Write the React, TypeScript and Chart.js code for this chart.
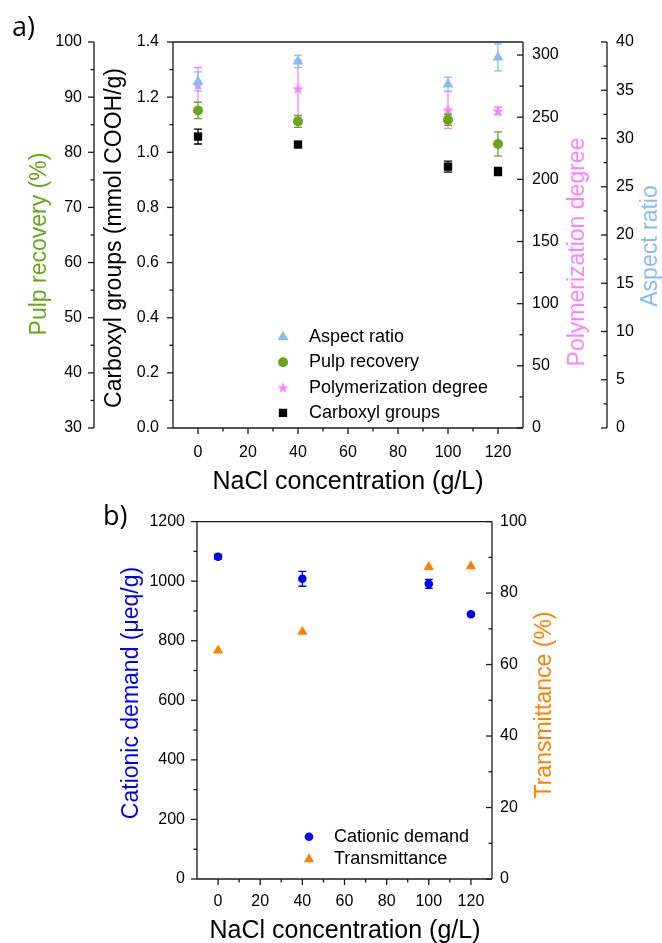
import React, { useEffect, useRef } from 'react';
import { Chart, registerables } from 'chart.js';
import { drawPoint } from 'chart.js/helpers';

Chart.register(...registerables);

const FONT = "'Liberation Sans', Arial, Helvetica, sans-serif";

// NaCl concentration levels (g/L)
const naclLevels = [0, 40, 100, 120];

// Panel a) – fibre properties
const aspectRatio = [35.9, 38.0, 35.6, 38.4];
const aspectRatioErr = [1.0, 0.65, 0.75, 1.4];
const pulpRecovery = [87.6, 85.6, 85.9, 81.5];
const pulpRecoveryErr = [1.5, 1.1, 1.0, 2.2];
const polymerizationDegree = [276, 273, 256, 255];
const polymerizationDegreeErr = [14, 23, 15, 3];
const carboxylGroups = [1.057, 1.028, 0.948, 0.93];
const carboxylGroupsErr = [0.027, 0.005, 0.02, 0.015];

// Panel b) – suspension properties
const cationicDemand = [1082, 1008, 991, 889];
const cationicDemandErr = [8, 25, 15, 5];
const transmittance = [63.9, 69.2, 87.3, 87.5];

// Major tick values of every axis
const naclTicks = [0, 20, 40, 60, 80, 100, 120];
const pulpTicks = [30, 40, 50, 60, 70, 80, 90, 100];
const carboxylTicks = [0, 0.2, 0.4, 0.6, 0.8, 1.0, 1.2, 1.4];
const polymerizationTicks = [0, 50, 100, 150, 200, 250, 300];
const aspectTicks = [0, 5, 10, 15, 20, 25, 30, 35, 40];
const cationicTicks = [0, 200, 400, 600, 800, 1000, 1200];
const transmittanceTicks = [0, 20, 40, 60, 80, 100];

const GREEN = '#6ba51c';
const PINK = '#ff80ff';
const SKY = '#88bdf2';
const BLACK = '#000000';
const BLUE = '#0000ff';
const ORANGE = '#ff8000';
const AXIS = '#1a1a1a';

const toPoints = (values: number[], errs?: number[]) =>
  naclLevels.map((x, i) => ({ x, y: values[i], err: errs ? errs[i] : 0 }));

const midpoints = (ticks: number[]) =>
  ticks.slice(1).map((v, i) => (v + ticks[i]) / 2);

function makeStar(color: string, outer: number, inner: number) {
  const size = Math.ceil(outer * 2) + 2;
  const c = document.createElement('canvas');
  c.width = size;
  c.height = size;
  const g = c.getContext('2d')!;
  g.beginPath();
  for (let k = 0; k < 10; k++) {
    const r = k % 2 === 0 ? outer : inner;
    const a = -Math.PI / 2 + (k * Math.PI) / 5;
    g.lineTo(size / 2 + r * Math.cos(a), size / 2 + 0.5 + r * Math.sin(a));
  }
  g.closePath();
  g.fillStyle = color;
  g.fill();
  return c;
}

// Linear axis without Chart.js grid/border; lines and tick marks are drawn by axisFrame
function linearAxis(o: {
  position: string;
  weight?: number;
  min: number;
  max: number;
  ticks: number[];
  size: number;
  padding: number;
  decimals?: number;
}) {
  return {
    type: 'linear',
    position: o.position,
    weight: o.weight ?? 0,
    min: o.min,
    max: o.max,
    grid: { display: false, drawTicks: false },
    border: { display: false },
    title: { display: false },
    ticks: {
      color: '#000',
      font: { family: FONT, size: 16 },
      padding: o.padding,
      maxRotation: 0,
      callback: (v: number) =>
        o.decimals ? Number(v).toFixed(o.decimals) : String(Math.round(Number(v))),
    },
    afterBuildTicks: (s: any) => {
      s.ticks = o.ticks.map((value) => ({ value }));
    },
    afterFit: (s: any) => {
      if (o.position === 'bottom') s.height = o.size;
      else s.width = o.size;
    },
  };
}

// Draws box frame, axis lines, and major/minor tick marks
function axisFrame(yAxes: { id: string; side: 'left' | 'right'; majors: number[] }[]) {
  return {
    id: 'axisFrame',
    afterDraw(chart: any) {
      const { ctx, chartArea: ca } = chart;
      const seg = (x1: number, y1: number, x2: number, y2: number) => {
        ctx.beginPath();
        ctx.moveTo(x1, y1);
        ctx.lineTo(x2, y2);
        ctx.stroke();
      };
      ctx.save();
      ctx.strokeStyle = AXIS;
      ctx.lineWidth = 1.3;
      seg(ca.left, ca.top, ca.right, ca.top);
      seg(ca.left, ca.bottom, ca.right, ca.bottom);
      const xs = chart.scales.x;
      naclTicks.forEach((v) => {
        const px = xs.getPixelForValue(v);
        seg(px, ca.bottom, px, ca.bottom + 6);
      });
      midpoints(naclTicks).forEach((v) => {
        const px = xs.getPixelForValue(v);
        seg(px, ca.bottom, px, ca.bottom + 3.5);
      });
      yAxes.forEach((a) => {
        const s = chart.scales[a.id];
        const lx = a.side === 'left' ? s.right : s.left;
        seg(lx, ca.top, lx, ca.bottom);
        a.majors.forEach((v) => {
          const py = s.getPixelForValue(v);
          seg(lx - 6, py, lx, py);
        });
        midpoints(a.majors).forEach((v) => {
          const py = s.getPixelForValue(v);
          seg(lx - 3.5, py, lx, py);
        });
      });
      ctx.restore();
    },
  };
}

// Vertical error bars with caps, painted just under each dataset's markers
const errorBars = {
  id: 'errorBars',
  beforeDatasetDraw(chart: any, args: any) {
    const { ctx } = chart;
    const meta = args.meta;
    const ds = chart.data.datasets[args.index];
    const ys = chart.scales[meta.yAxisID];
    ctx.save();
    ctx.strokeStyle = ds.backgroundColor;
    ctx.lineWidth = 1.3;
    meta.data.forEach((el: any, j: number) => {
      const raw = ds.data[j];
      if (!raw.err) return;
      const top = ys.getPixelForValue(raw.y + raw.err);
      const bot = ys.getPixelForValue(raw.y - raw.err);
      const x = el.x;
      ctx.beginPath();
      ctx.moveTo(x, top);
      ctx.lineTo(x, bot);
      ctx.moveTo(x - 4, top);
      ctx.lineTo(x + 4, top);
      ctx.moveTo(x - 4, bot);
      ctx.lineTo(x + 4, bot);
      ctx.stroke();
    });
    ctx.restore();
  },
};

// In-plot legend built from the datasets' own marker styles
function insideLegend(markerX: number, textX: number, firstY: number, rowGap: number) {
  return {
    id: 'insideLegend',
    afterDraw(chart: any) {
      const { ctx } = chart;
      ctx.save();
      chart.data.datasets.forEach((ds: any, i: number) => {
        const y = firstY + i * rowGap;
        ctx.fillStyle = ds.backgroundColor;
        drawPoint(
          ctx,
          { pointStyle: ds.pointStyle, radius: ds.pointRadius, rotation: 0, borderWidth: 0 } as any,
          markerX,
          y
        );
        ctx.fillStyle = '#000';
        ctx.font = `18px ${FONT}`;
        ctx.textAlign = 'left';
        ctx.textBaseline = 'middle';
        ctx.fillText(ds.label, textX, y);
      });
      ctx.restore();
    },
  };
}

type TitleSpec = { text: string; color: string; size: number; x: number; y: number; vertical: boolean };

function axisTitles(titles: TitleSpec[]) {
  return {
    id: 'axisTitles',
    afterDraw(chart: any) {
      const { ctx } = chart;
      titles.forEach((t) => {
        ctx.save();
        ctx.translate(t.x, t.y);
        if (t.vertical) ctx.rotate(-Math.PI / 2);
        ctx.fillStyle = t.color;
        ctx.font = `${t.size}px ${FONT}`;
        ctx.textAlign = 'center';
        ctx.textBaseline = 'middle';
        ctx.fillText(t.text, 0, 0);
        ctx.restore();
      });
    },
  };
}

const baseOptions = {
  responsive: false,
  animation: false,
  devicePixelRatio: 1,
  events: [],
};

function panelAConfig(): any {
  const star = makeStar(PINK, 6, 2.5);
  return {
    type: 'scatter',
    data: {
      datasets: [
        {
          label: 'Aspect ratio',
          data: toPoints(aspectRatio, aspectRatioErr),
          yAxisID: 'yAspect',
          pointStyle: 'triangle',
          pointRadius: 6.3,
          backgroundColor: SKY,
          borderColor: SKY,
          pointBorderWidth: 0,
        },
        {
          label: 'Pulp recovery',
          data: toPoints(pulpRecovery, pulpRecoveryErr),
          yAxisID: 'yPulp',
          pointStyle: 'circle',
          pointRadius: 5,
          backgroundColor: GREEN,
          borderColor: GREEN,
          pointBorderWidth: 0,
        },
        {
          label: 'Polymerization degree',
          data: toPoints(polymerizationDegree, polymerizationDegreeErr),
          yAxisID: 'yPoly',
          pointStyle: star,
          pointRadius: 6,
          backgroundColor: PINK,
          borderColor: PINK,
          pointBorderWidth: 0,
        },
        {
          label: 'Carboxyl groups',
          data: toPoints(carboxylGroups, carboxylGroupsErr),
          yAxisID: 'y',
          pointStyle: 'rect',
          pointRadius: 5.9,
          backgroundColor: BLACK,
          borderColor: BLACK,
          pointBorderWidth: 0,
        },
      ],
    },
    options: {
      ...baseOptions,
      layout: { padding: { left: 0, right: 0, top: 42, bottom: 0 } },
      plugins: { legend: { display: false }, tooltip: { enabled: false } },
      scales: {
        x: linearAxis({ position: 'bottom', min: -10, max: 130, ticks: naclTicks, size: 72, padding: 15 }),
        y: linearAxis({ position: 'left', weight: 0, min: 0, max: 1.4, ticks: carboxylTicks, size: 79, padding: 14, decimals: 1 }),
        yPulp: linearAxis({ position: 'left', weight: 1, min: 30, max: 100, ticks: pulpTicks, size: 94, padding: 12 }),
        yPoly: linearAxis({ position: 'right', weight: 0, min: 0, max: 310.5, ticks: polymerizationTicks, size: 84, padding: 9 }),
        yAspect: linearAxis({ position: 'right', weight: 1, min: 0, max: 40, ticks: aspectTicks, size: 55, padding: 9 }),
      },
    },
    plugins: [
      errorBars,
      axisFrame([
        { id: 'y', side: 'left', majors: carboxylTicks },
        { id: 'yPulp', side: 'left', majors: pulpTicks },
        { id: 'yPoly', side: 'right', majors: polymerizationTicks },
        { id: 'yAspect', side: 'right', majors: aspectTicks },
      ]),
      insideLegend(283, 309, 337, 25.3),
      axisTitles([
        { text: 'Pulp recovery (%)', color: GREEN, size: 23, x: 40, y: 244, vertical: true },
        { text: 'Carboxyl groups (mmol COOH/g)', color: BLACK, size: 23, x: 115, y: 238, vertical: true },
        { text: 'Polymerization degree', color: PINK, size: 23, x: 578, y: 252, vertical: true },
        { text: 'Aspect ratio', color: SKY, size: 23, x: 651, y: 246, vertical: true },
        { text: 'NaCl concentration (g/L)', color: BLACK, size: 25, x: 348, y: 482, vertical: false },
      ]),
    ],
  };
}

function panelBConfig(): any {
  return {
    type: 'scatter',
    data: {
      datasets: [
        {
          label: 'Cationic demand',
          data: toPoints(cationicDemand, cationicDemandErr),
          yAxisID: 'y',
          pointStyle: 'circle',
          pointRadius: 4.3,
          backgroundColor: BLUE,
          borderColor: BLUE,
          pointBorderWidth: 0,
        },
        {
          label: 'Transmittance',
          data: toPoints(transmittance),
          yAxisID: 'yT',
          pointStyle: 'triangle',
          pointRadius: 6,
          backgroundColor: ORANGE,
          borderColor: ORANGE,
          pointBorderWidth: 0,
        },
      ],
    },
    options: {
      ...baseOptions,
      layout: { padding: { left: 100, right: 100, top: 21, bottom: 0 } },
      plugins: { legend: { display: false }, tooltip: { enabled: false } },
      scales: {
        x: linearAxis({ position: 'bottom', min: -10, max: 130, ticks: naclTicks, size: 64, padding: 13 }),
        y: linearAxis({ position: 'left', min: 0, max: 1200, ticks: cationicTicks, size: 97, padding: 12 }),
        yT: linearAxis({ position: 'right', min: 0, max: 100, ticks: transmittanceTicks, size: 70, padding: 8 }),
      },
    },
    plugins: [
      errorBars,
      axisFrame([
        { id: 'y', side: 'left', majors: cationicTicks },
        { id: 'yT', side: 'right', majors: transmittanceTicks },
      ]),
      insideLegend(309, 334, 336.7, 22.6),
      axisTitles([
        { text: 'Cationic demand (\u03bceq/g)', color: BLUE, size: 23, x: 132, y: 193, vertical: true },
        { text: 'Transmittance (%)', color: ORANGE, size: 23, x: 545, y: 205, vertical: true },
        { text: 'NaCl concentration (g/L)', color: BLACK, size: 25, x: 345, y: 431, vertical: false },
      ]),
    ],
  };
}

function ChartPanel({ top, height, build }: { top: number; height: number; build: () => any }) {
  const ref = useRef<HTMLCanvasElement>(null);
  useEffect(() => {
    const chart = new Chart(ref.current!, build());
    return () => chart.destroy();
  }, [build]);
  return (
    <div style={{ position: 'absolute', left: 0, top, width: 662, height }}>
      <canvas ref={ref} width={662} height={height} style={{ display: 'block' }} />
    </div>
  );
}

const panelLabel: React.CSSProperties = {
  position: 'absolute',
  fontFamily: "'Open Sans', 'Noto Sans', sans-serif",
  fontSize: 27,
  lineHeight: 1,
  color: '#000',
};

export default function App() {
  return (
    <div style={{ position: 'absolute', left: 0, top: 0, width: 662, height: 943, background: '#fff', overflow: 'hidden' }}>
      <ChartPanel top={0} height={500} build={panelAConfig} />
      <ChartPanel top={500} height={443} build={panelBConfig} />
      <div style={{ ...panelLabel, left: 12, top: 12 }}>a)</div>
      <div style={{ ...panelLabel, left: 103, top: 501 }}>b)</div>
    </div>
  );
}
